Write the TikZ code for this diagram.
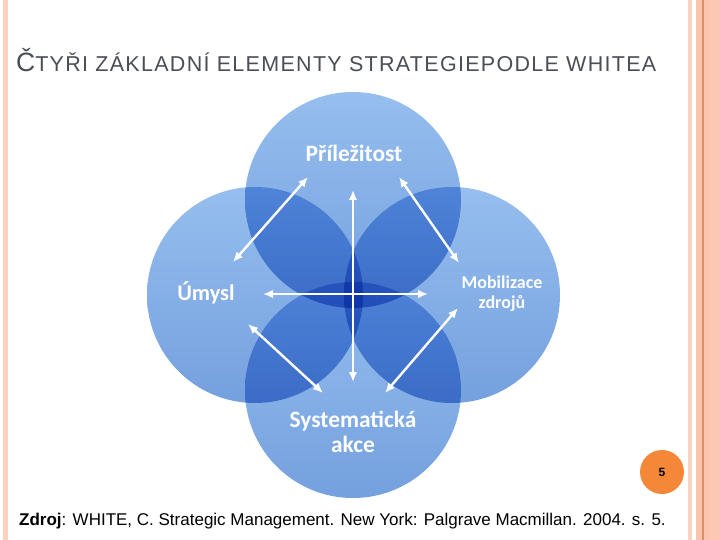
\documentclass[tikz,border=0pt]{standalone}
\usepackage{fontspec}
\setmainfont{Liberation Sans}
\newfontfamily\calibri{Carlito}
\usetikzlibrary{arrows.meta}

\definecolor{bluetop}{RGB}{150,190,238}
\definecolor{bluebot}{RGB}{116,160,222}
\definecolor{titlegray}{RGB}{74,78,86}
\definecolor{pinklight}{RGB}{250,210,192}
\definecolor{pinkmid}{RGB}{250,196,174}
\definecolor{pinkdark}{RGB}{224,142,102}
\definecolor{pinkback}{RGB}{252,200,180}
\definecolor{orangenum}{RGB}{245,136,56}

\begin{document}
\begin{tikzpicture}[x=1pt,y=-1pt,
  petal/.style={circle,minimum size=216pt,inner sep=0pt,draw=none,
    top color=bluetop,bottom color=bluebot,blend mode=multiply},
  petaltext/.style={text=white,font=\calibri\bfseries,align=center,inner sep=0pt},
  link/.style={white,line width=2.4pt,{Latex[length=10pt,width=8.5pt]}-{Latex[length=10pt,width=8.5pt]}}]
\useasboundingbox (0,0) rectangle (720,540);
\fill[white] (0,0) rectangle (720,540);

% Page border
\fill[pinklight] (3,0) rectangle (8,540);
\fill[pinklight] (688,0) rectangle (692,540);
\fill[pinkmid] (696,0) rectangle (702,540);
\fill[pinkdark] (702,0) rectangle (703.5,540);
\fill[pinkmid] (703.5,0) rectangle (709,540);
\fill[pinkback] (709,0) rectangle (720,540);

% Title
\node[anchor=base west,inner sep=0pt,text=titlegray] (title) at (16,72)
  {\addfontfeatures{LetterSpace=6}\fontsize{26.5}{28}\selectfont Č\fontsize{21.5}{24}\selectfont TYŘI ZÁKLADNÍ ELEMENTY STRATEGIEPODLE WHITEA};

% Four circles
\node[petal] (opp) at (353,200) {};
\node[petal] (int) at (255,295) {};
\node[petal] (res) at (452,295) {};
\node[petal] (act) at (353,390) {};

% Labels
\node[petaltext,font=\calibri\bfseries\fontsize{23.4}{26}\selectfont,anchor=base] (oppl) at (354,162) {Příležitost};
\node[petaltext,font=\calibri\bfseries\fontsize{22.4}{26}\selectfont,anchor=base] (intl) at (206,300) {Úmysl};
\node[petaltext,font=\calibri\bfseries\fontsize{18}{20}\selectfont,anchor=base] (resl) at (502,308) {Mobilizace\\zdrojů};
\node[petaltext,font=\calibri\bfseries\fontsize{23.4}{25}\selectfont,anchor=base] (actl) at (353,452) {Systematická\\akce};

% Arrow ends
\coordinate (v1) at (353,190);
\coordinate (v2) at (353,382);
\coordinate (h1) at (263,294);
\coordinate (h2) at (428,294);
\coordinate (ul1) at (308,177);
\coordinate (ul2) at (233,262);
\coordinate (ur1) at (399,177);
\coordinate (ur2) at (459,263);
\coordinate (ll1) at (248,324);
\coordinate (ll2) at (323,393);
\coordinate (lr1) at (458,308);
\coordinate (lr2) at (385,393);

% Arrows
\foreach \a/\b in {v1/v2,h1/h2,ul1/ul2,ur1/ur2,ll1/ll2,lr1/lr2}
  \draw[link] (\a) -- (\b);

% Page number
\node[circle,fill=orangenum,minimum size=44pt,inner sep=0pt,font=\bfseries\fontsize{12}{13}\selectfont] (page) at (662,472) {5};

% Source
\node[anchor=base west,inner sep=0pt,font=\fontsize{17}{20}\selectfont] (src) at (19,525)
  {\textbf{Zdroj}: WHITE, C. Strategic Management. New York: Palgrave Macmillan. 2004. s. 5.};
\end{tikzpicture}
\end{document}
